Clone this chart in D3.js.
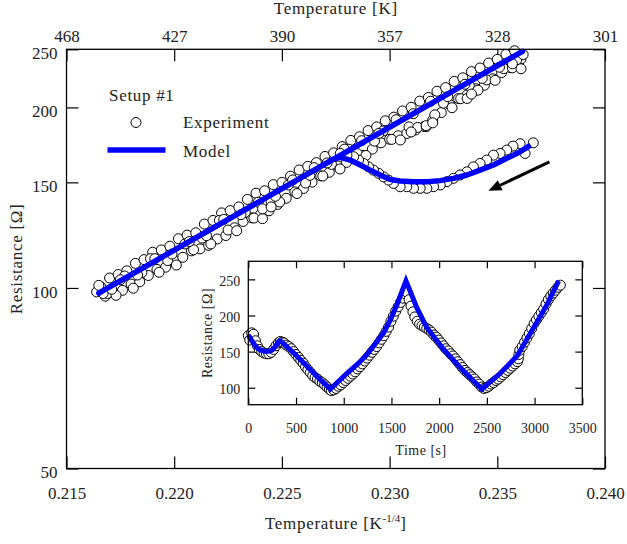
<!DOCTYPE html>
<html><head><meta charset="utf-8">
<script src="https://cdn.jsdelivr.net/npm/d3@7"></script>
<style>body{margin:0;background:#fff}</style>
</head><body><svg id="c" width="627" height="544" xmlns="http://www.w3.org/2000/svg"></svg>
<script>
// ---------------- DATA ----------------
const xTickValues = [0.215, 0.220, 0.225, 0.230, 0.235, 0.240];
const topTickLabels = ["468", "427", "390", "357", "328", "301"];
const yTickValues = [50, 100, 150, 200, 250];
const insetXTicks = [0, 500, 1000, 1500, 2000, 2500, 3000, 3500];
const insetYTicks = [100, 150, 200, 250];

// Experiment (main view: R vs T^-1/4)
const mainExpInvT = [
 0.2166,0.2170,0.2174,0.2178,0.2182,0.2186,0.2190,0.2194,0.2198,0.2202,0.2206,0.2210,0.2214,0.2218,0.2222,0.2226,0.2230,0.2234,0.2238,0.2242,0.2246,0.2250,0.2254,0.2258,0.2262,0.2266,0.2270,0.2274,0.2278,0.2282,0.2286,0.2290,0.2294,0.2298,0.2302,0.2306,0.2310,0.2314,0.2318,0.2322,0.2326,0.2330,0.2334,0.2338,0.2342,0.2346,0.2350,0.2354,0.2358,
 0.2168,0.2172,0.2176,0.2180,0.2184,0.2188,0.2192,0.2196,0.2200,0.2204,0.2208,0.2212,0.2216,0.2220,0.2224,0.2228,0.2232,0.2236,0.2240,0.2244,0.2248,0.2252,0.2256,0.2260,0.2264,0.2268,0.2272,0.2276,0.2280,0.2284,0.2288,0.2292,0.2296,0.2300,0.2304,0.2308,0.2312,0.2316,0.2320,0.2324,0.2328,0.2332,0.2336,0.2340,0.2344,0.2348,0.2352,0.2356,0.2360,
 0.2169,0.2173,0.2177,0.2181,0.2185,0.2189,0.2193,0.2197,0.2201,0.2205,0.2209,0.2213,0.2217,0.2221,0.2225,0.2229,0.2233,0.2237,0.2241,0.2245,0.2249,0.2253,0.2257,0.2261,0.2265,0.2269,0.2273,0.2277,0.2281,0.2285,0.2289,0.2293,0.2297,0.2301,0.2305,0.2309,0.2313,0.2317,0.2321,0.2325,0.2329,0.2333,0.2337,0.2341,0.2345,0.2349,0.2353,0.2357,0.2361,
 0.2167,0.2175,0.2183,0.2191,0.2199,0.2207,0.2215,0.2223,0.2231,0.2239,0.2247,0.2255,0.2263,0.2271,0.2279,0.2287,0.2295,0.2303,0.2311,0.2319,0.2327,0.2335,0.2343,0.2351,0.2359,
 0.2164,0.2165,0.2171,0.2241,0.2245,0.2310,0.2317,0.2320,0.2336,0.2338,0.2361,0.2362,0.2357,
 0.23667,0.23629,0.23606,0.23573,0.23544,0.23513,0.23482,0.23451,0.23420,0.23389,0.23359,0.23327,0.23296,0.23266,0.23235,0.23204,0.23173,0.23142,0.23111,0.23080,0.23049,0.23018,0.22995,0.22972,0.22949,0.22925,0.22902,0.22879,0.22856,0.22833,0.22802,0.22771
];
const mainExpR = [
 100.4,103.9,105.3,106.8,109.9,111.5,114.7,115.7,117.4,120.8,122.5,123.6,127.8,129.6,133.4,134.6,136.5,140.5,143.9,145.2,148.7,150.0,153.6,157.3,159.5,161.8,165.7,168.0,172.1,176.2,178.7,183.0,185.6,190.0,192.7,197.3,200.1,204.9,207.8,212.8,215.8,221.0,224.1,229.5,232.7,237.2,240.5,245.1,248.6,
 96.9,98.3,99.1,101.5,102.4,104.9,107.4,108.3,111.0,112.5,115.3,116.2,117.8,120.7,122.3,126.0,129.1,130.9,132.6,134.5,137.8,141.1,144.6,146.5,150.1,153.8,155.9,159.7,161.9,164.1,166.4,170.4,174.6,177.0,179.4,180.9,183.4,185.9,190.5,196.1,202.0,206.9,209.8,214.9,217.8,223.2,228.6,233.0,238.6,
 97.9,97.2,104.7,99.9,106.1,111.9,106.2,111.1,109.2,118.4,115.8,121.1,118.4,129.6,124.9,124.6,133.7,130.8,130.5,139.4,139.1,148.5,143.7,149.6,158.7,153.7,160.7,157.9,170.3,167.5,166.3,175.7,182.7,176.9,176.5,185.6,185.2,185.8,194.4,203.3,199.8,206.8,217.4,213.7,222.3,221.9,232.1,232.8,241.0,
 97.9,103.2,105.1,111.9,113.9,119.5,122.2,130.1,132.5,139.0,142.2,151.4,154.1,161.6,170.4,176.0,181.0,190.8,195.2,204.8,208.4,218.6,223.6,233.4,240.0,
 98.5,101.0,99.5,135.5,136.5,182.0,186.5,188.5,207.0,210.5,232.0,245.0,236.5,
 174.6,167.6,174.0,172.4,169.8,167.6,166.5,163.4,161.3,159.2,156.2,154.3,152.3,150.4,148.5,147.5,146.6,146.6,146.6,147.5,147.5,149.4,151.3,153.2,155.3,157.2,159.2,161.3,163.4,165.5,166.5,167.6
];

// Experiment (inset view: R vs time)
const insetExpTime = [0,15,35,55,75,95,115,140,165,190,215,240,265,290,315,335,355,375,400,425,450,475,500,525,550,575,600,625,650,675,700,725,750,775,800,825,850,870,895,920,945,970,995,1020,1045,1070,1095,1120,1145,1170,1195,1220,1245,1270,1295,1320,1345,1370,1395,1420,1445,1470,1495,1520,1545,1570,1595,1620,1645,1665,1685,1705,1725,1745,1770,1795,1820,1845,1870,1895,1920,1945,1970,1995,2020,2045,2070,2095,2120,2145,2170,2195,2220,2245,2270,2295,2320,2345,2370,2395,2420,2445,2470,2495,2520,2545,2570,2595,2620,2645,2670,2695,2720,2745,2770,2795,2820,2830,2835,2845,2870,2895,2920,2945,2970,2995,3020,3045,3070,3095,3120,3145,3170,3195,3220,3245,3270];
const insetExpR = [172,166,176,174,165,158,153,150,148,147,147,149,153,158,162,164,163,162,159,157,154,150,146,142,138,134,129,125,121,117,114,112,109,107,104,101,98,96,97,99,102,104,107,110,113,116,119,122,126,129,133,137,141,145,149,153,157,162,167,172,178,184,192,199,206,212,218,224,230,232,222,213,205,198,192,188,186,184,182,180,177,173,170,166,162,158,154,151,147,144,140,136,132,128,124,121,118,115,112,108,105,101,99,100,102,105,107,110,112,115,118,121,124,127,130,133,136,140,146,152,157,163,169,175,182,189,194,199,204,209,216,222,227,231,235,239,242];

// Model (shared by both views)
const modelTime = [0,20,40,60,80,100,125,150,175,200,225,245,265,285,300,315,330,345,493,650,760,860,1034,1150,1244,1418,1490,1558,1652,1768,1872,2047,2256,2449,2641,2816,2990,3130,3252];
const modelInvT = [0.23655,0.23606,0.23544,0.23482,0.23420,0.23359,0.23296,0.23235,0.23173,0.23111,0.23049,0.23003,0.22956,0.22910,0.22864,0.22817,0.22771,0.22738,0.22495,0.22166,0.2190,0.2165,0.22079,0.2230,0.22495,0.22890,0.2310,0.23314,0.23617,0.23265,0.22973,0.22594,0.22131,0.2165,0.22079,0.22465,0.22973,0.23314,0.23617];
const modelR = [173.0,168.7,164.5,160.3,157.2,154.3,152.3,151.0,150.4,150.4,150.8,151.7,154.3,157.2,160.3,163.4,165.1,164.0,146,125,110.3,98,120,133.2,146,176,194.3,215,248,210,183,153,123,98,120,144,183,215,248];

// Arrow annotation (data coordinates): tail, head
const arrowInvT = [0.23742, 0.23459];
const arrowR = [162.3, 145.2];

// ---------------- DRAW ----------------
const FONT = '"Liberation Serif","Times New Roman",serif';
const INK = "#222";
const BLUE = "#0000ff";
const svg = d3.select("#c");

const X0 = 66.5, X1 = 605, Y0 = 49.3, Y1 = 468.5;
const x = d3.scaleLinear().domain([0.215, 0.240]).range([X0, X1]);
const y = d3.scaleLog().domain([50, 250]).range([Y1, Y0]);

function styleAxis(g, fs) {
  g.attr("font-family", null).attr("font-size", null);
  g.select(".domain").remove();
  g.selectAll("line").attr("stroke", "#000").attr("stroke-width", 1.2);
  g.selectAll("text").attr("font-family", FONT).attr("font-size", fs).attr("fill", INK);
}

// main axes
svg.append("g").attr("transform", `translate(0,${Y1})`)
  .call(d3.axisBottom(x).tickValues(xTickValues).tickSize(-12).tickPadding(18).tickFormat(d3.format(".3f")))
  .call(g => styleAxis(g, 17));
svg.append("g").attr("transform", `translate(0,${Y0})`)
  .call(d3.axisTop(x).tickValues(xTickValues).tickSize(-12).tickPadding(7).tickFormat((d, i) => topTickLabels[i]))
  .call(g => styleAxis(g, 17));
svg.append("g").attr("transform", `translate(${X0},0)`)
  .call(d3.axisLeft(y).tickValues(yTickValues).tickSize(-12).tickPadding(9).tickFormat(d3.format("d")))
  .call(g => { styleAxis(g, 17); g.selectAll("text").attr("dy", "0.55em"); });
svg.append("g").attr("transform", `translate(${X1},0)`)
  .call(d3.axisRight(y).tickValues(yTickValues).tickSize(-12).tickFormat(""))
  .call(g => styleAxis(g, 17));

// main experiment
const mainPts = mainExpInvT.map((v, i) => [v, mainExpR[i]]);
svg.append("g").selectAll("circle").data(mainPts).join("circle")
  .attr("cx", d => x(d[0])).attr("cy", d => y(d[1])).attr("r", 5)
  .attr("fill", "#fff").attr("stroke", "#000").attr("stroke-width", 1);

// main model
const modelPts = modelTime.map((t, i) => ({ t, v: modelInvT[i], r: modelR[i] }));
svg.append("path").datum(modelPts)
  .attr("d", d3.line().x(d => x(d.v)).y(d => y(d.r)))
  .attr("fill", "none").attr("stroke", BLUE).attr("stroke-width", 5.5)
  .attr("stroke-linejoin", "round");

// frame
svg.append("rect").attr("x", X0).attr("y", Y0).attr("width", X1 - X0).attr("height", Y1 - Y0)
  .attr("fill", "none").attr("stroke", "#000").attr("stroke-width", 1.3);

// titles
const txt = (xx, yy, s, fs, anchor) => svg.append("text").attr("x", xx).attr("y", yy)
  .attr("font-family", FONT).attr("font-size", fs).attr("fill", INK)
  .attr("text-anchor", anchor || "start").attr("letter-spacing", 0.7).text(s);
txt((X0 + X1) / 2, 14, "Temperature [K]", 17, "middle");
const bt = svg.append("text").attr("x", (X0 + X1) / 2).attr("y", 529)
  .attr("font-family", FONT).attr("font-size", 17).attr("fill", INK)
  .attr("text-anchor", "middle").attr("letter-spacing", 0.7);
bt.append("tspan").text("Temperature [K");
bt.append("tspan").attr("dy", -7).attr("font-size", 11).attr("letter-spacing", 0).text("-1/4");
bt.append("tspan").attr("dy", 7).text("]");
svg.append("text").attr("transform", `translate(22,${(Y0 + Y1) / 2}) rotate(-90)`)
  .attr("font-family", FONT).attr("font-size", 17).attr("fill", INK)
  .attr("text-anchor", "middle").attr("letter-spacing", 0.7).text("Resistance [Ω]");

// legend
txt(109, 101, "Setup #1", 17);
svg.append("circle").attr("cx", 136).attr("cy", 122.5).attr("r", 5)
  .attr("fill", "#fff").attr("stroke", "#000").attr("stroke-width", 1);
txt(183, 128, "Experiment", 17);
svg.append("line").attr("x1", 107.5).attr("x2", 165.5).attr("y1", 150).attr("y2", 150)
  .attr("stroke", BLUE).attr("stroke-width", 5.5);
txt(183, 157, "Model", 17);

// arrow
{
  const tx = x(arrowInvT[0]), ty = y(arrowR[0]), hx = x(arrowInvT[1]), hy = y(arrowR[1]);
  const ang = Math.atan2(hy - ty, hx - tx), L = 13, W = 5.5;
  const bx = hx - L * Math.cos(ang), by = hy - L * Math.sin(ang);
  svg.append("line").attr("x1", tx).attr("y1", ty).attr("x2", bx).attr("y2", by)
    .attr("stroke", "#000").attr("stroke-width", 3);
  svg.append("polygon").attr("points", [
    [hx, hy],
    [bx + W * Math.sin(ang), by - W * Math.cos(ang)],
    [bx - W * Math.sin(ang), by + W * Math.cos(ang)]
  ].map(p => p.join(",")).join(" ")).attr("fill", "#000");
}

// ---------------- INSET ----------------
const IX0 = 248.3, IX1 = 582.3, IY0 = 261.3, IY1 = 404.7;
const ix = d3.scaleLinear().domain([0, 3500]).range([IX0, IX1]);
const iy = d3.scaleLinear().domain([76.5, 275]).range([IY1, IY0]);

svg.append("rect").attr("x", IX0).attr("y", IY0).attr("width", IX1 - IX0).attr("height", IY1 - IY0)
  .attr("fill", "#fff");

svg.append("g").attr("transform", `translate(0,${IY1})`)
  .call(d3.axisBottom(ix).tickValues(insetXTicks).tickSize(-7).tickPadding(18).tickFormat(d3.format("d")))
  .call(g => styleAxis(g, 14));
svg.append("g").attr("transform", `translate(0,${IY0})`)
  .call(d3.axisTop(ix).tickValues(insetXTicks).tickSize(-7).tickFormat(""))
  .call(g => styleAxis(g, 14));
svg.append("g").attr("transform", `translate(${IX0},0)`)
  .call(d3.axisLeft(iy).tickValues(insetYTicks).tickSize(-7).tickPadding(8).tickFormat(d3.format("d")))
  .call(g => { styleAxis(g, 14); g.selectAll("text").attr("dy", "0.41em"); });
svg.append("g").attr("transform", `translate(${IX1},0)`)
  .call(d3.axisRight(iy).tickValues(insetYTicks).tickSize(-7).tickFormat(""))
  .call(g => styleAxis(g, 14));

const insetPts = insetExpTime.map((t, i) => [t, insetExpR[i]]);
svg.append("g").selectAll("circle").data(insetPts).join("circle")
  .attr("cx", d => ix(d[0])).attr("cy", d => iy(d[1])).attr("r", 5)
  .attr("fill", "#fff").attr("stroke", "#000").attr("stroke-width", 1);

svg.append("path").datum(modelPts)
  .attr("d", d3.line().x(d => ix(d.t)).y(d => iy(d.r)))
  .attr("fill", "none").attr("stroke", BLUE).attr("stroke-width", 5)
  .attr("stroke-linejoin", "miter").attr("stroke-miterlimit", 10);

svg.append("rect").attr("x", IX0).attr("y", IY0).attr("width", IX1 - IX0).attr("height", IY1 - IY0)
  .attr("fill", "none").attr("stroke", "#000").attr("stroke-width", 1.3);

svg.append("text").attr("x", 421).attr("y", 455)
  .attr("font-family", FONT).attr("font-size", 14).attr("fill", INK)
  .attr("text-anchor", "middle").attr("letter-spacing", 0.5).text("Time [s]");
svg.append("text").attr("transform", `translate(212,${(IY0 + IY1) / 2}) rotate(-90)`)
  .attr("font-family", FONT).attr("font-size", 14).attr("fill", INK)
  .attr("text-anchor", "middle").attr("letter-spacing", 0.5).text("Resistance [Ω]");
</script></body></html>
